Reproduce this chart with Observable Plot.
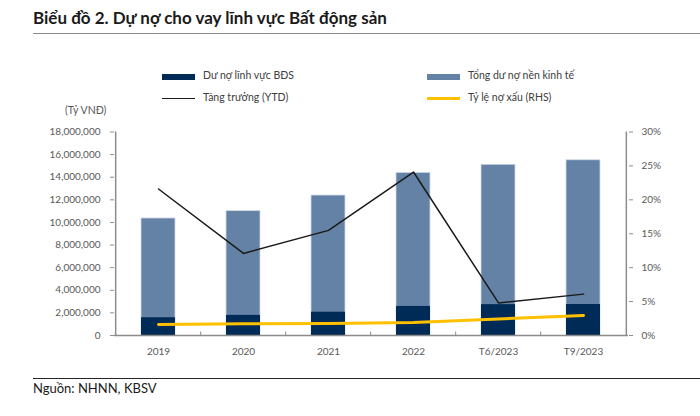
<!DOCTYPE html>
<html>
<head>
<meta charset="utf-8">
<script src="https://cdn.jsdelivr.net/npm/d3@7"></script>
<script src="https://cdn.jsdelivr.net/npm/@observablehq/plot@0.6"></script>
<style>
  html, body { margin: 0; padding: 0; background: #fff; }
  #wrap { position: relative; width: 700px; height: 416px; font-family: Lato, "Open Sans", sans-serif; overflow: hidden; }
  .abs { position: absolute; white-space: nowrap; }
  #title { left: 33px; top: 8px; font-size: 17px; font-weight: 700; color: #1a1a1a; line-height: 20px; }
  #titleRule { left: 33px; top: 33px; width: 667px; height: 0; border-top: 1.5px solid #8a8a8a; }
  .lg { font-size: 10.5px; color: #404040; line-height: 12px; }
  #unit { left: 65px; top: 104px; font-size: 10.5px; color: #595959; line-height: 12px; }
  #capRule { left: 33px; top: 377.5px; width: 667px; height: 0; border-top: 1.5px solid #262626; }
  #caption { left: 33px; top: 380px; font-size: 13px; color: #1a1a1a; line-height: 16px; }
  #chart { left: 0; top: 100px; }
</style>
</head>
<body>
<div id="wrap">
  <div id="title" class="abs">Biểu đồ 2. Dự nợ cho vay lĩnh vực Bất động sản</div>
  <div id="titleRule" class="abs"></div>
  <div id="legend"></div>
  <div id="unit" class="abs">(Tỷ VNĐ)</div>
  <div id="chart" class="abs"></div>
  <div id="capRule" class="abs"></div>
  <div id="caption" class="abs">Nguồn: NHNN, KBSV</div>
</div>
<script>
// ---- data ----
const categories = ["2019", "2020", "2021", "2022", "T6/2023", "T9/2023"];
const tongDuNo = [10350000, 11000000, 12380000, 14380000, 15100000, 15500000]; // Tổng dư nợ nền kinh tế (bar top)
const duNoBDS = [1570000, 1780000, 2060000, 2570000, 2730000, 2740000];        // Dư nợ lĩnh vực BĐS
const tangTruong = [21.6, 12.1, 15.5, 24.1, 4.8, 6.1];                        // Tăng trưởng (YTD), %
const tyLeNoXau = [1.62, 1.72, 1.77, 1.9, 2.45, 2.95];                        // Tỷ lệ nợ xấu (RHS), %
const leftTicks = [0, 2000000, 4000000, 6000000, 8000000, 10000000, 12000000, 14000000, 16000000, 18000000];
const rightTicks = [0, 5, 10, 15, 20, 25, 30];
const seriesNames = ["Dư nợ lĩnh vực BĐS", "Tổng dư nợ nền kinh tế", "Tăng trưởng (YTD)", "Tỷ lệ nợ xấu (RHS)"];

const colDark = "#002b56", colLight = "#6482a6", colBlack = "#1a1a1a", colYellow = "#ffc000";

// ---- legend ----
const legend = document.getElementById("legend");
const legendItems = [
  {name: seriesNames[0], kind: "box", color: colDark, x: 162, y: 77},
  {name: seriesNames[1], kind: "box", color: colLight, x: 427, y: 77},
  {name: seriesNames[2], kind: "line", color: colBlack, x: 162, y: 98.5},
  {name: seriesNames[3], kind: "line", color: colYellow, x: 427, y: 98.5}
];
for (const it of legendItems) {
  const sw = document.createElement("div");
  sw.className = "abs";
  const h = it.kind === "box" ? 6 : (it.color === colYellow ? 3 : 1.5);
  Object.assign(sw.style, {left: it.x + "px", top: (it.y - h / 2) + "px", width: "33px", height: h + "px", background: it.color});
  legend.appendChild(sw);
  const t = document.createElement("div");
  t.className = "abs lg";
  t.textContent = it.name;
  Object.assign(t.style, {left: (it.x + 41) + "px", top: (it.y - 8) + "px"});
  legend.appendChild(t);
}

// ---- chart ----
const yMax = leftTicks[leftTicks.length - 1];
const pMax = rightTicks[rightTicks.length - 1];
const k = yMax / pMax;
const rows = categories.map((c, i) => ({cat: c, tong: tongDuNo[i], bds: duNoBDS[i], tt: tangTruong[i] * k, npl: tyLeNoXau[i] * k}));

const W = 700, H = 270, mL = 114, mR = 72, mT = 31.5, mB = 35;
const step = (W - mL - mR) / categories.length;
const plotH = H - mT - mB;
const axisColor = "#8c8c8c";

const chart = Plot.plot({
  width: W, height: H,
  marginLeft: mL, marginRight: mR, marginTop: mT, marginBottom: mB,
  style: {fontFamily: "Lato, 'Open Sans', sans-serif", fontSize: "10px", color: "#595959", background: "transparent", overflow: "visible"},
  x: {domain: categories, paddingInner: 0.6, paddingOuter: 0.3, axis: null},
  y: {domain: [0, yMax], axis: null},
  marks: [
    Plot.barY(rows, {x: "cat", y: "tong", fill: colLight, stroke: "#cfd9e6", strokeWidth: 0.8}),
    Plot.barY(rows, {x: "cat", y: "bds", fill: colDark}),
    Plot.ruleY([0], {stroke: axisColor, strokeWidth: 1.5}),
    Plot.ruleX([categories[0]], {x: d => d, dx: -step / 2, stroke: axisColor, strokeWidth: 1.5}),
    Plot.ruleX([categories[categories.length - 1]], {x: d => d, dx: step / 2, stroke: axisColor, strokeWidth: 1.5}),
    Plot.ruleX(categories.slice(1), {x: d => d, dx: -step / 2, insetTop: plotH - 3.5, stroke: axisColor, strokeWidth: 1}),
    Plot.axisY(leftTicks, {anchor: "left", tickFormat: d3.format(","), tickSize: 4, tickPadding: 10, stroke: axisColor, label: null}),
    Plot.axisY(rightTicks.map(p => p * k), {anchor: "right", tickFormat: d => `${Math.round(d / k)}%`, tickSize: 4, tickPadding: 9, stroke: axisColor, label: null}),
    Plot.axisX({tickSize: 0, tickPadding: 12, label: null}),
    Plot.lineY(rows, {x: "cat", y: "tt", stroke: colBlack, strokeWidth: 1.5}),
    Plot.lineY(rows, {x: "cat", y: "npl", stroke: colYellow, strokeWidth: 3})
  ]
});
document.getElementById("chart").appendChild(chart);
</script>
</body>
</html>
